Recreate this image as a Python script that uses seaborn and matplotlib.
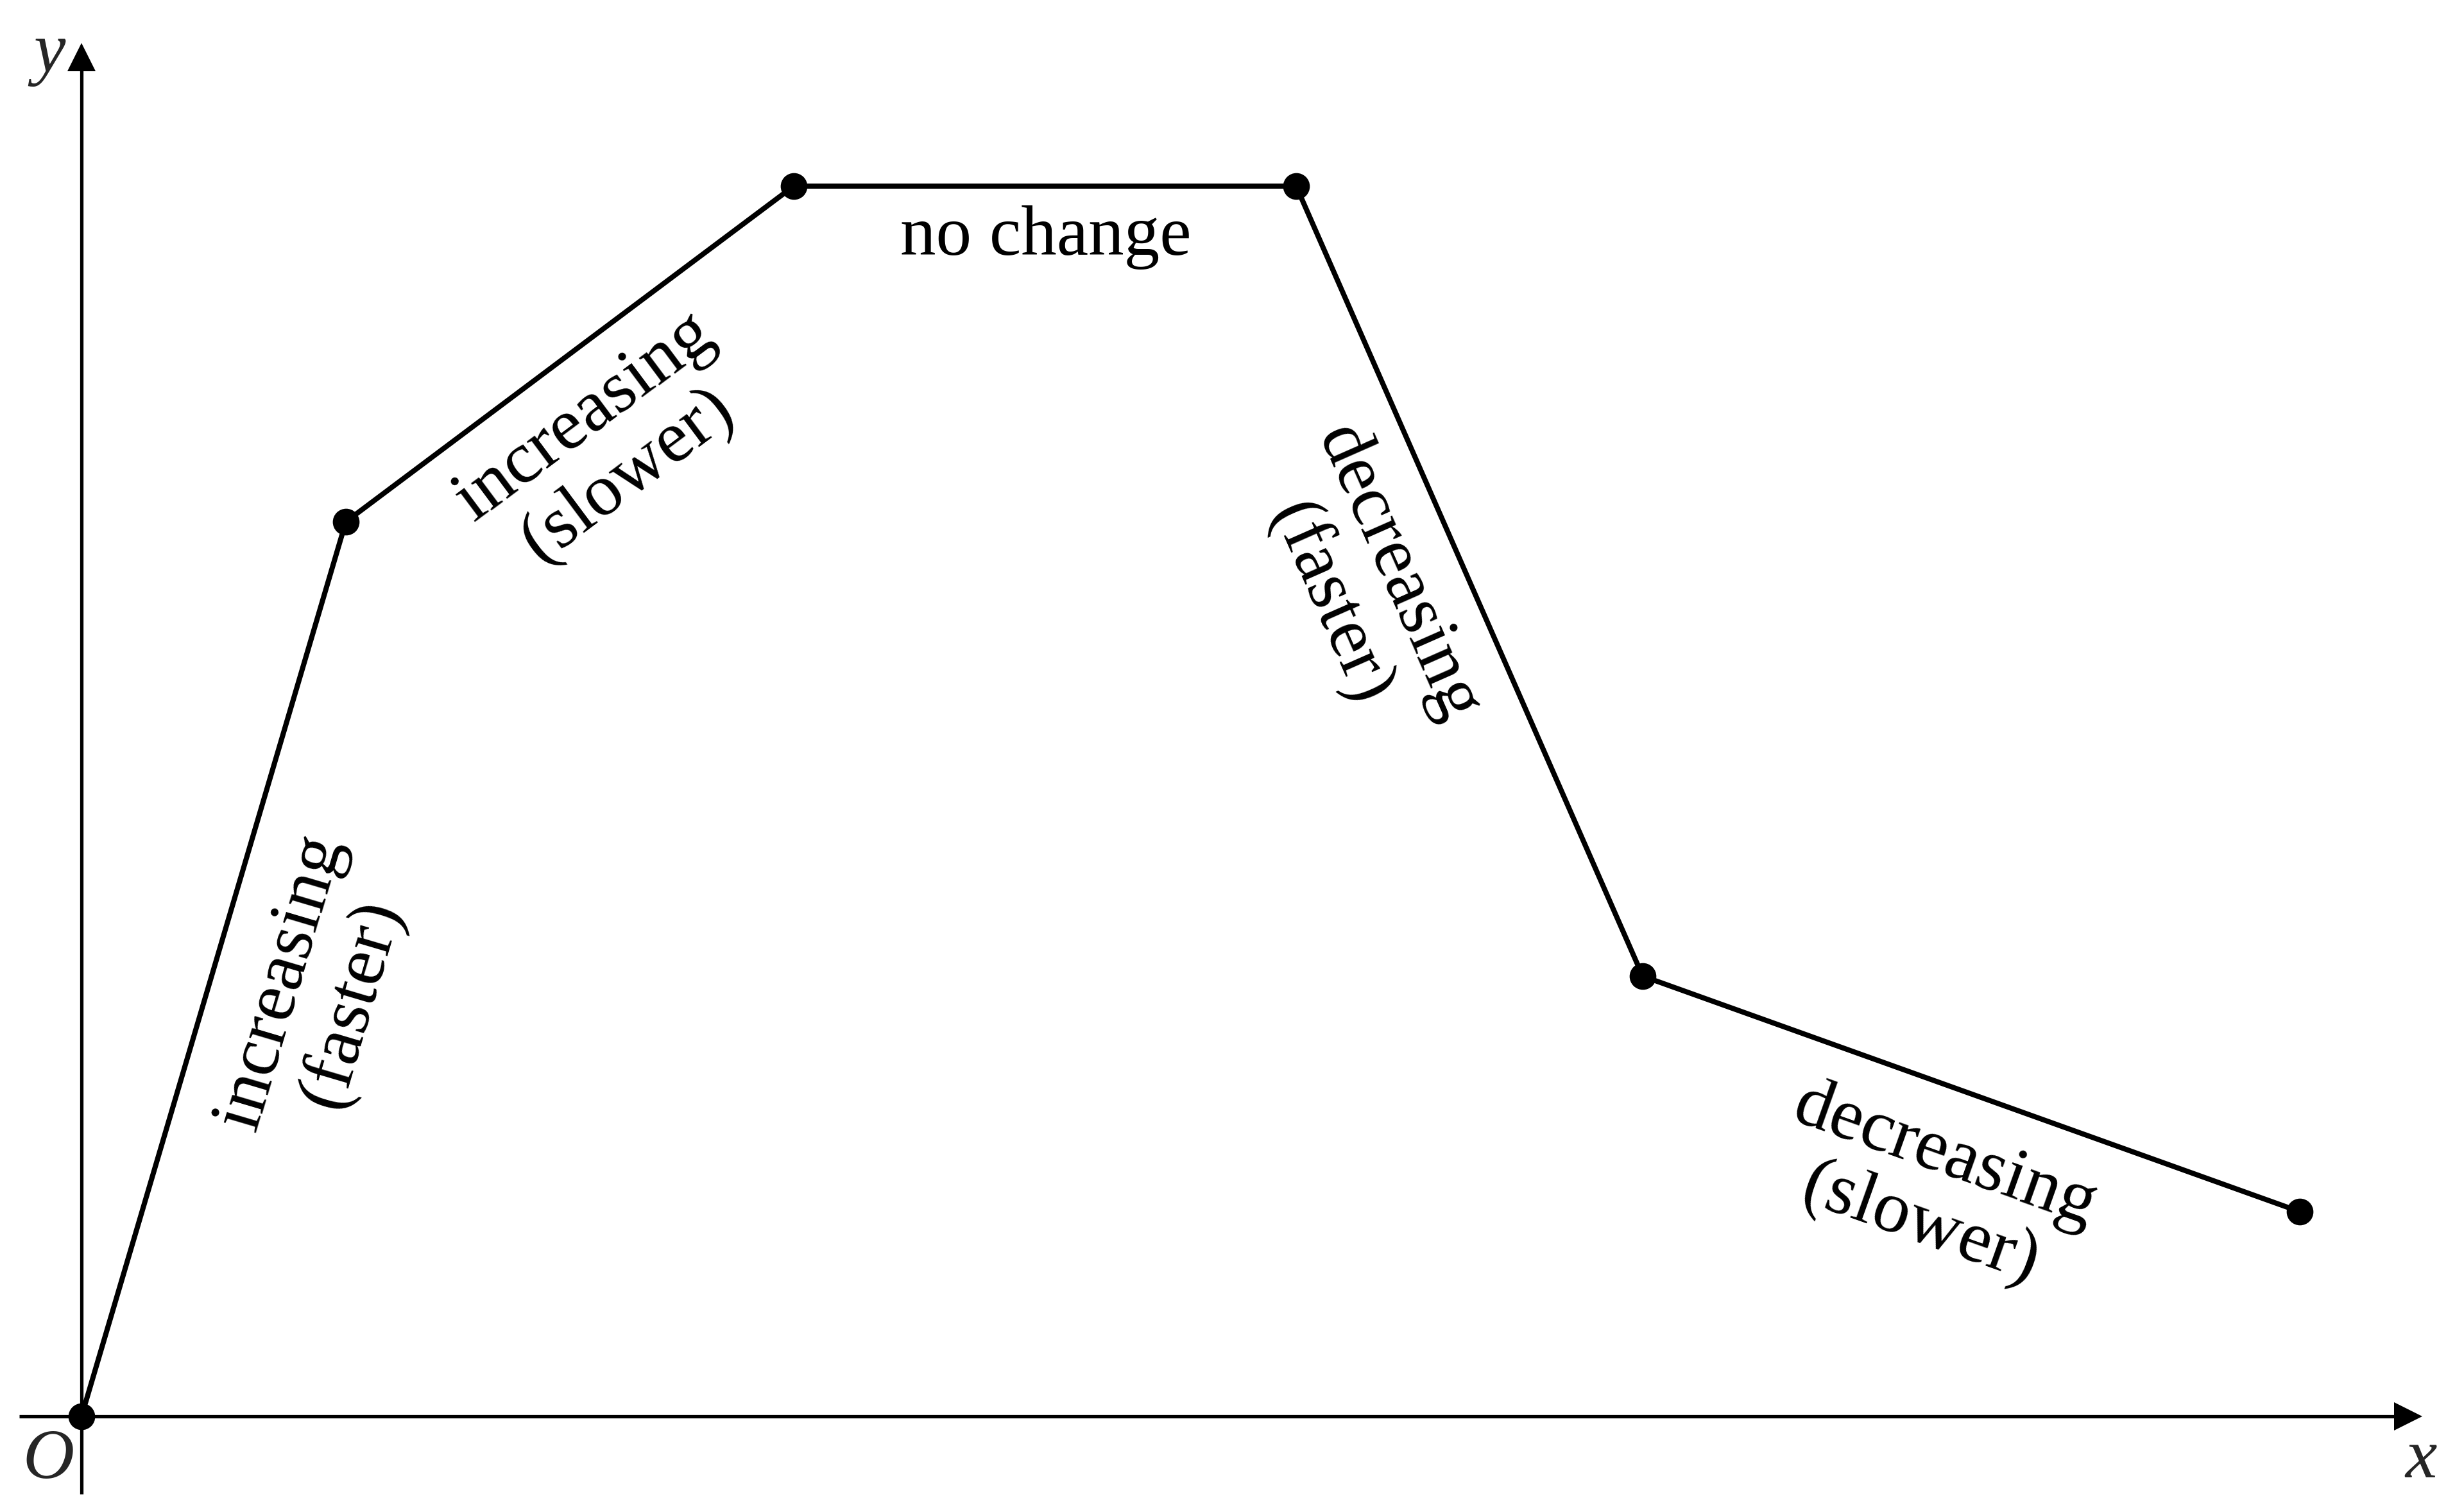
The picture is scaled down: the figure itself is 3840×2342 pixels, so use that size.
import matplotlib
matplotlib.use("Agg")
import matplotlib.pyplot as plt
import seaborn as sns
import pandas as pd

# ---- data (units: 1 = 100 px of the reference) ----
x_vals = [0.0, 4.12, 11.10, 18.93, 24.33, 34.57]
y_vals = [0.0, 13.94, 19.17, 19.17, 6.86, 3.19]

labels = ["increasing\n(faster)", "increasing\n(slower)", "no change",
          "decreasing\n(faster)", "decreasing\n(slower)"]
label_x = [3.66, 8.18, 15.03, 19.98, 28.85]
label_y = [6.60, 15.12, 18.10, 12.89, 3.52]
label_rot = [73.5, 36.7, 0.0, -66.2, -19.6]

sns.set_theme(style="white")
plt.rcParams["font.family"] = ["Liberation Serif", "DejaVu Serif"]

fig = plt.figure(figsize=(38.4, 23.42), dpi=100)
ax = fig.add_axes([0, 0, 1, 1])
ax.set_xlim(-1.27, 37.13)
ax.set_ylim(-1.35, 22.07)
ax.axis("off")

# coordinate axes
ax.plot([-0.97, 36.05], [0, 0], color="black", lw=3.8, solid_capstyle="butt")
ax.plot([0, 0], [-1.21, 20.97], color="black", lw=3.8, solid_capstyle="butt")
ax.plot([36.265], [0], marker=">", ms=31, color="black", mew=0)
ax.plot([0], [21.185], marker="^", ms=31, color="black", mew=0)

# piecewise line
df = pd.DataFrame({"x": x_vals, "y": y_vals})
sns.lineplot(data=df, x="x", y="y", sort=False, estimator=None, color="black",
             lw=5.8, marker="o", markersize=30, markeredgewidth=0, ax=ax, zorder=3)
ax.set_xlabel("")
ax.set_ylabel("")

for t, lx, ly, r in zip(labels, label_x, label_y, label_rot):
    if t == "no change":
        ax.text(lx, ly, t, fontsize=80, ha="center", va="baseline", color="black")
    else:
        ax.text(lx, ly, t, fontsize=83, ha="center", va="center", rotation=r,
                rotation_mode="anchor", multialignment="center", color="black",
                linespacing=1.12)

ax.text(-0.50, 21.22, "y", fontsize=80, style="italic", ha="center", va="center")
ax.text(36.46, -0.68, "x", fontsize=80, style="italic", ha="center", va="center")
ax.text(-0.51, -0.69, "O", fontsize=80, style="italic", ha="center", va="center")

fig.savefig("out.png", dpi=100, facecolor="white")
